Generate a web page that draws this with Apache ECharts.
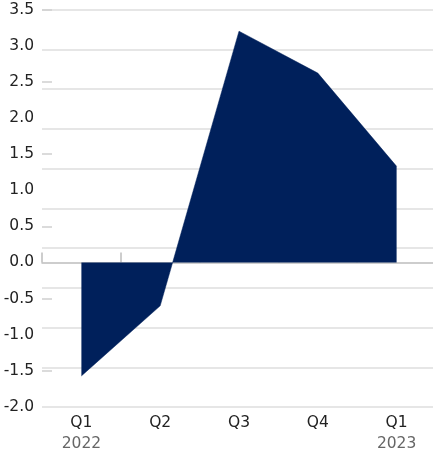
<!DOCTYPE html>
<html><head><meta charset="utf-8">
<script src="https://cdn.jsdelivr.net/npm/echarts@6/dist/echarts.min.js"></script>
<style>html,body{margin:0;padding:0;background:#fff}#c{width:433px;height:455px}</style>
</head><body><div id="c"></div>
<script>
const categories = ['Q1','Q2','Q3','Q4','Q1'];
const years = ['2022','','','','2023'];
const values = [-1.57, -0.6, 3.2, 2.62, 1.33];
const yTickLabels = [-2.0,-1.5,-1.0,-0.5,0.0,0.5,1.0,1.5,2.0,2.5,3.0,3.5];

const FONT = 'DejaVu Sans';
const chart = echarts.init(document.getElementById('c'));
chart.setOption({
  animation: false,
  grid: {left: 42, width: 394, top: 9.5, bottom: 48, containLabel: false, outerBoundsMode: 'none'},
  xAxis: {
    type: 'category', data: categories, boundaryGap: true,
    axisLine: {onZero: true, lineStyle: {color: '#bdbdbd', width: 1.5}},
    axisTick: {show: true, inside: true, length: 10, lineStyle: {color: '#bdbdbd', width: 1.5}},
    axisLabel: {
      margin: 5,
      formatter: function (v, i) { return '{q|' + v + '}\n{y|' + years[i] + '}'; },
      rich: {
        q: {fontFamily: FONT, fontSize: 15.5, color: '#222', lineHeight: 21},
        y: {fontFamily: FONT, fontSize: 15.5, color: '#666', lineHeight: 21}
      }
    },
    splitLine: {show: false}
  },
  yAxis: [{
    type: 'value', min: -2, max: 3.5, interval: 0.5,
    axisLine: {show: false},
    axisTick: {show: true, inside: true, length: 10, customValues: [3.5,2.5,1.5,0.5,-0.5,-1.5], lineStyle: {color: '#cfcfcf', width: 1.5}},
    axisLabel: {
      margin: 8, fontFamily: FONT, fontSize: 15.5, color: '#222',
      customValues: yTickLabels,
      formatter: function (v) { return v.toFixed(1); }
    },
    splitLine: {show: false}
  }, {
    type: 'value', min: 0, max: 10, interval: 1, position: 'left',
    axisLine: {show: false}, axisTick: {show: false}, axisLabel: {show: false},
    splitLine: {show: true, lineStyle: {color: '#dedede', width: 1.5}}
  }],
  series: [{
    type: 'line', data: values, yAxisIndex: 0,
    symbol: 'none', lineStyle: {width: 0.5, color: '#00205b'},
    areaStyle: {color: '#00205b', opacity: 1, origin: 0}
  }]
});
</script></body></html>
